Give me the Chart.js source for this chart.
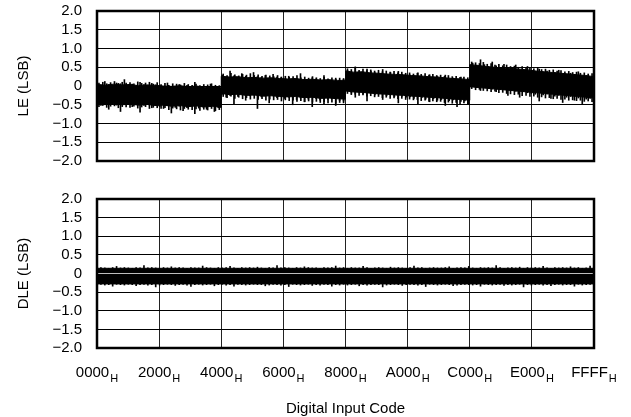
<!DOCTYPE html>
<html><head><meta charset="utf-8">
<script src="https://cdn.jsdelivr.net/npm/chart.js@4"></script>
<style>
html,body{margin:0;padding:0;background:#fff;}
#wrap{position:relative;width:631px;height:417px;overflow:hidden;background:#fff;}
.box{position:absolute;left:0;width:631px;}
</style></head><body>
<div id="wrap">
<div class="box" style="top:175px;height:242px"><canvas id="c2" width="631" height="242"></canvas></div>
<div class="box" style="top:-13px;height:198px"><canvas id="c1" width="631" height="198"></canvas></div>
</div>
<script>
// ---- tick definitions ----
const xTickCodes  = [0, 8192, 16384, 24576, 32768, 40960, 49152, 57344, 65535];
const xTickLabels = ['0000','2000','4000','6000','8000','A000','C000','E000','FFFF'];
const xTickSub    = 'H';
const yTickValues = [-2, -1.5, -1, -0.5, 0, 0.5, 1, 1.5, 2];
const yTickLabels = ['\u22122.0','\u22121.5','\u22121.0','\u22120.5','0','0.5','1.0','1.5','2.0'];
const codeMax = 65535;
const segStarts = [0, 16384, 32768, 49152];   // LE steps at 4000h, 8000h, C000h
const segSpan = 16383;

// ---- LE (LSB): dense core edges, 16 readings per segment ----
const leCoreUpper = [
 0.04, 0.02, 0.05, 0.03, 0.04, 0.01, 0.03, 0.02,  0.00,-0.01, 0.01,-0.02, 0.00,-0.03,-0.01,-0.03,
 0.26, 0.24, 0.25, 0.22, 0.23, 0.21, 0.22, 0.20,  0.19, 0.20, 0.17, 0.18, 0.16, 0.17, 0.15, 0.15,
 0.40, 0.37, 0.38, 0.35, 0.34, 0.32, 0.31, 0.30,  0.28, 0.27, 0.25, 0.24, 0.22, 0.20, 0.19, 0.17,
 0.57, 0.55, 0.52, 0.50, 0.48, 0.47, 0.45, 0.43,  0.40, 0.38, 0.36, 0.34, 0.32, 0.30, 0.28, 0.25
];
const leCoreLower = [
-0.46,-0.49,-0.47,-0.50,-0.48,-0.51,-0.49,-0.52, -0.51,-0.54,-0.52,-0.55,-0.53,-0.56,-0.54,-0.57,
-0.20,-0.23,-0.22,-0.25,-0.24,-0.27,-0.26,-0.28, -0.29,-0.28,-0.31,-0.30,-0.33,-0.32,-0.34,-0.35,
-0.13,-0.16,-0.17,-0.19,-0.21,-0.22,-0.24,-0.25, -0.27,-0.28,-0.30,-0.31,-0.33,-0.35,-0.36,-0.38,
-0.02,-0.04,-0.06,-0.08,-0.10,-0.12,-0.14,-0.16, -0.18,-0.20,-0.22,-0.24,-0.26,-0.28,-0.30,-0.32
];

// ---- LE (LSB): large excursions (spikes) ----
const leUpper = [
 0.05, 0.03, 0.12, 0.04, 0.02, 0.08, 0.06, 0.17,  0.03, 0.05, 0.01, 0.10, 0.04, 0.02, 0.07, 0.03,
-0.02, 0.00, 0.08,-0.03,-0.01, 0.04,-0.04, 0.02, -0.02, 0.10,-0.05, 0.00,-0.03, 0.05,-0.04,-0.01,
 0.29, 0.24, 0.40, 0.27, 0.22, 0.33, 0.26, 0.21,  0.36, 0.25, 0.23, 0.28, 0.20, 0.31, 0.24, 0.22,
 0.18, 0.26, 0.15, 0.20, 0.33, 0.17, 0.14, 0.22,  0.19, 0.12, 0.28, 0.16, 0.13, 0.21, 0.15, 0.18,
 0.42, 0.36, 0.51, 0.38, 0.34, 0.45, 0.40, 0.35,  0.33, 0.44, 0.31, 0.36, 0.29, 0.39, 0.30, 0.27,
 0.29, 0.24, 0.35, 0.26, 0.22, 0.30, 0.20, 0.25,  0.18, 0.29, 0.16, 0.21, 0.14, 0.24, 0.12, 0.17,
 0.61, 0.55, 0.70, 0.57, 0.52, 0.64, 0.54, 0.50,  0.58, 0.48, 0.47, 0.56, 0.44, 0.42, 0.52, 0.40,
 0.38, 0.45, 0.35, 0.40, 0.33, 0.36, 0.42, 0.30,  0.28, 0.34, 0.25, 0.38, 0.23, 0.27, 0.21, 0.26
];
const leLower = [
-0.48,-0.52,-0.50,-0.62,-0.49,-0.51,-0.68,-0.50, -0.47,-0.55,-0.50,-0.70,-0.52,-0.49,-0.58,-0.51,
-0.55,-0.60,-0.52,-0.72,-0.57,-0.54,-0.66,-0.58, -0.53,-0.74,-0.59,-0.56,-0.62,-0.55,-0.68,-0.58,
-0.22,-0.30,-0.25,-0.47,-0.28,-0.21,-0.38,-0.26, -0.24,-0.60,-0.29,-0.27,-0.45,-0.25,-0.31,-0.28,
-0.33,-0.30,-0.50,-0.36,-0.32,-0.42,-0.35,-0.55, -0.34,-0.38,-0.48,-0.36,-0.33,-0.52,-0.39,-0.40,
-0.14,-0.19,-0.30,-0.16,-0.22,-0.40,-0.18,-0.24, -0.21,-0.36,-0.26,-0.23,-0.28,-0.45,-0.27,-0.30,
-0.29,-0.33,-0.47,-0.31,-0.35,-0.42,-0.34,-0.38, -0.36,-0.52,-0.39,-0.37,-0.55,-0.41,-0.40,-0.48,
-0.01,-0.04,-0.12,-0.02,-0.06,-0.08,-0.15,-0.07, -0.10,-0.25,-0.12,-0.14,-0.30,-0.15,-0.18,-0.20,
-0.22,-0.40,-0.24,-0.21,-0.33,-0.27,-0.25,-0.44, -0.30,-0.28,-0.38,-0.32,-0.47,-0.35,-0.33,-0.40
];
// ---- LE (LSB): moderate excursions between the large ones ----
const leUpper2 = [
 0.08, 0.10, 0.06, 0.09, 0.12, 0.07, 0.10, 0.08,  0.09, 0.06, 0.11, 0.07, 0.08, 0.10, 0.05, 0.09,
 0.04, 0.07, 0.02, 0.06, 0.05, 0.03, 0.07, 0.04,  0.02, 0.05, 0.01, 0.04, 0.03, 0.06, 0.02, 0.01,
 0.32, 0.28, 0.34, 0.30, 0.27, 0.31, 0.29, 0.33,  0.28, 0.30, 0.26, 0.29, 0.27, 0.25, 0.28, 0.24,
 0.26, 0.23, 0.25, 0.28, 0.22, 0.24, 0.21, 0.25,  0.22, 0.20, 0.23, 0.19, 0.22, 0.18, 0.21, 0.20,
 0.46, 0.44, 0.47, 0.42, 0.45, 0.41, 0.43, 0.40,  0.42, 0.38, 0.40, 0.37, 0.39, 0.35, 0.37, 0.34,
 0.35, 0.32, 0.34, 0.31, 0.33, 0.29, 0.31, 0.28,  0.29, 0.26, 0.28, 0.25, 0.26, 0.23, 0.24, 0.22,
 0.64, 0.62, 0.60, 0.63, 0.58, 0.60, 0.56, 0.58,  0.54, 0.56, 0.52, 0.53, 0.50, 0.52, 0.48, 0.49,
 0.46, 0.47, 0.44, 0.45, 0.42, 0.43, 0.40, 0.41,  0.38, 0.39, 0.36, 0.37, 0.34, 0.35, 0.32, 0.33
];
const leLower2 = [
-0.55,-0.52,-0.57,-0.54,-0.53,-0.58,-0.55,-0.56, -0.57,-0.54,-0.59,-0.56,-0.55,-0.60,-0.57,-0.58,
-0.60,-0.58,-0.63,-0.59,-0.61,-0.64,-0.60,-0.62, -0.63,-0.61,-0.65,-0.62,-0.64,-0.60,-0.66,-0.63,
-0.28,-0.31,-0.27,-0.33,-0.30,-0.34,-0.31,-0.35, -0.33,-0.36,-0.34,-0.38,-0.35,-0.37,-0.36,-0.40,
-0.37,-0.39,-0.38,-0.41,-0.39,-0.42,-0.40,-0.43, -0.41,-0.44,-0.42,-0.45,-0.43,-0.46,-0.44,-0.45,
-0.20,-0.23,-0.22,-0.25,-0.24,-0.27,-0.26,-0.29, -0.28,-0.31,-0.30,-0.33,-0.32,-0.34,-0.33,-0.36,
-0.35,-0.37,-0.36,-0.39,-0.38,-0.41,-0.40,-0.42, -0.41,-0.44,-0.43,-0.46,-0.44,-0.47,-0.45,-0.48,
-0.07,-0.10,-0.09,-0.12,-0.13,-0.15,-0.14,-0.18, -0.17,-0.20,-0.21,-0.23,-0.22,-0.26,-0.25,-0.28,
-0.27,-0.30,-0.29,-0.32,-0.31,-0.34,-0.33,-0.36, -0.35,-0.38,-0.37,-0.39,-0.38,-0.41,-0.40,-0.42
];

// ---- DLE (LSB): dense core and excursions ----
const dleCoreCodes = [0, 65535];
const dleCoreUpper = [0.14, 0.14];
const dleCoreLower = [-0.28, -0.28];
const dleUpper = [
 0.15,0.16,0.15,0.14,0.16,0.19,0.15,0.16, 0.15,0.14,0.16,0.15,0.21,0.15,0.16,0.15,
 0.14,0.16,0.15,0.18,0.15,0.16,0.15,0.14, 0.16,0.15,0.15,0.20,0.16,0.15,0.14,0.16,
 0.15,0.16,0.19,0.15,0.14,0.16,0.15,0.16, 0.15,0.17,0.15,0.14,0.16,0.15,0.21,0.15,
 0.16,0.15,0.14,0.16,0.15,0.18,0.16,0.15, 0.15,0.14,0.16,0.15,0.16,0.20,0.15,0.16,
 0.14,0.16,0.15,0.15,0.19,0.16,0.14,0.15, 0.16,0.15,0.14,0.17,0.15,0.16,0.15,0.14,
 0.16,0.20,0.15,0.16,0.14,0.15,0.16,0.15, 0.15,0.16,0.18,0.14,0.15,0.16,0.15,0.19,
 0.15,0.14,0.16,0.15,0.16,0.15,0.21,0.16, 0.14,0.15,0.16,0.15,0.17,0.14,0.16,0.15,
 0.16,0.15,0.19,0.15,0.14,0.16,0.15,0.16, 0.15,0.18,0.15,0.16,0.14,0.15,0.20,0.15
];
const dleLower = [
-0.30,-0.29,-0.31,-0.30,-0.34,-0.29,-0.30,-0.31, -0.29,-0.30,-0.33,-0.30,-0.29,-0.31,-0.30,-0.36,
-0.31,-0.30,-0.29,-0.30,-0.32,-0.30,-0.29,-0.31, -0.35,-0.30,-0.29,-0.31,-0.30,-0.29,-0.33,-0.30,
-0.29,-0.31,-0.30,-0.34,-0.29,-0.30,-0.31,-0.30, -0.29,-0.30,-0.30,-0.33,-0.31,-0.29,-0.30,-0.31,
-0.30,-0.35,-0.29,-0.30,-0.31,-0.30,-0.29,-0.32, -0.30,-0.31,-0.29,-0.30,-0.34,-0.30,-0.31,-0.29,
-0.31,-0.30,-0.29,-0.33,-0.30,-0.31,-0.30,-0.29, -0.30,-0.36,-0.31,-0.30,-0.29,-0.30,-0.32,-0.30,
-0.29,-0.30,-0.31,-0.30,-0.35,-0.29,-0.30,-0.31, -0.30,-0.29,-0.30,-0.33,-0.31,-0.30,-0.29,-0.30,
-0.31,-0.30,-0.34,-0.29,-0.30,-0.31,-0.30,-0.29, -0.32,-0.30,-0.31,-0.30,-0.29,-0.36,-0.30,-0.31,
-0.30,-0.29,-0.31,-0.30,-0.33,-0.30,-0.29,-0.31, -0.30,-0.30,-0.34,-0.29,-0.31,-0.30,-0.29,-0.32
];
// light trace visible through the DLE band
const dleTraceCodes  = [0, 65535];
const dleTraceValues = [0, 0];

const FONT = "'Liberation Sans', Arial, Helvetica, sans-serif";
Chart.defaults.font.family = FONT;
Chart.defaults.color = '#000';

// sample positions: evenly spread over the code range (offset = fraction of one step)
function spanPoints(lo, hi, offset) {
  const n = lo.length, step = offset ? codeMax / n : codeMax / (n - 1);
  return lo.map((v, i) => ({ x: (i + (offset || 0)) * step, y: [v, hi[i]] }));
}
function segPoints(vals) {
  const per = vals.length / segStarts.length;
  return vals.map((v, i) => ({ x: segStarts[Math.floor(i / per)] + (i % per) * segSpan / (per - 1), y: v }));
}
function xyPoints(codes, vals) {
  return codes.map((x, i) => ({ x, y: vals[i] }));
}

const frame = {
  id: 'frame',
  afterDatasetsDraw(chart) {
    const a = chart.chartArea, c = chart.ctx;
    c.save();
    c.strokeStyle = '#000';
    c.lineWidth = 2.5;
    c.strokeRect(a.left, a.top, a.right - a.left, a.bottom - a.top);
    c.restore();
  }
};

const subLabels = {
  id: 'subLabels',
  afterDraw(chart) {
    if (!chart.options.plugins.subLabels.show) return;
    const c = chart.ctx, xs = chart.scales.x, base = chart.chartArea.bottom + 29;
    c.save();
    c.fillStyle = '#000';
    c.textBaseline = 'alphabetic';
    c.textAlign = 'left';
    xTickCodes.forEach((code, i) => {
      const px = xs.getPixelForValue(code);
      c.font = '15px ' + FONT;
      const w1 = c.measureText(xTickLabels[i]).width;
      c.font = '11px ' + FONT;
      const w2 = c.measureText(xTickSub).width;
      const x0 = px - (w1 + w2 + 1) / 2;
      c.font = '15px ' + FONT;
      c.fillText(xTickLabels[i], x0, base);
      c.font = '11px ' + FONT;
      c.fillText(xTickSub, x0 + w1 + 1, base + 5);
    });
    c.restore();
  }
};

function makeChart(id, datasets, yTitle, bottom) {
  return new Chart(document.getElementById(id), {
    type: 'line',
    data: { datasets },
    plugins: [frame, subLabels],
    options: {
      responsive: false,
      animation: false,
      events: [],
      layout: { padding: bottom ? { top: 24, right: 37, bottom: 0, left: 0 }
                                : { top: 0, right: 37, bottom: 0, left: 0 } },
      plugins: { legend: { display: false }, tooltip: { enabled: false },
                 subLabels: { show: bottom } },
      scales: {
        x: {
          type: 'linear', min: 0, max: codeMax, offset: false,
          afterBuildTicks: s => { s.ticks = xTickCodes.map(v => ({ value: v })); },
          afterFit: s => { s.height = bottom ? 69 : 0; },
          ticks: { display: false },
          grid: { color: '#222', lineWidth: 1, drawTicks: false, offset: false },
          border: { display: false },
          title: { display: bottom, text: 'Digital Input Code', font: { size: 15 },
                   padding: { top: 0, bottom: -1 } }
        },
        y: {
          min: -2, max: 2, beginAtZero: false,
          afterBuildTicks: s => { s.ticks = yTickValues.map(v => ({ value: v })); },
          afterFit: s => { s.width = 97; },
          ticks: { padding: 15, autoSkip: false, font: { size: 15 },
                   callback: v => { const i = yTickValues.indexOf(v); return i >= 0 ? yTickLabels[i] : ''; } },
          grid: { color: '#000', lineWidth: 1, drawTicks: false },
          border: { display: false },
          title: { display: true, text: yTitle, font: { size: 15 }, padding: { top: 15, bottom: 0 } }
        }
      }
    }
  });
}

const coreEdge = { borderColor: '#000', borderWidth: 1, pointRadius: 0, tension: 0, spanGaps: false };
const spikeStyle = { type: 'bar', backgroundColor: '#000', borderWidth: 0, barThickness: 1,
                     grouped: false, borderSkipped: false };

makeChart('c1', [
  Object.assign({ label: 'LE core hi', data: segPoints(leCoreUpper), fill: '+1', backgroundColor: '#000', order: 4 }, coreEdge),
  Object.assign({ label: 'LE core lo', data: segPoints(leCoreLower), fill: false, order: 5 }, coreEdge),
  Object.assign({ label: 'LE', data: spanPoints(leLower, leUpper), order: 2 }, spikeStyle),
  Object.assign({ label: 'LE b', data: spanPoints(leLower2, leUpper2, 0.5), order: 3 }, spikeStyle)
], 'LE (LSB)', false);

makeChart('c2', [
  Object.assign({ label: 'DLE core hi', data: xyPoints(dleCoreCodes, dleCoreUpper), fill: '+1', backgroundColor: '#000', order: 3 }, coreEdge),
  Object.assign({ label: 'DLE core lo', data: xyPoints(dleCoreCodes, dleCoreLower), fill: false, order: 4 }, coreEdge),
  Object.assign({ label: 'DLE', data: spanPoints(dleLower, dleUpper), order: 2 }, spikeStyle),
  { label: 'trace', data: xyPoints(dleTraceCodes, dleTraceValues),
    borderColor: '#bdbdbd', borderWidth: 1, pointRadius: 0, fill: false, order: 0 }
], 'DLE (LSB)', true);
</script>
</body></html>
